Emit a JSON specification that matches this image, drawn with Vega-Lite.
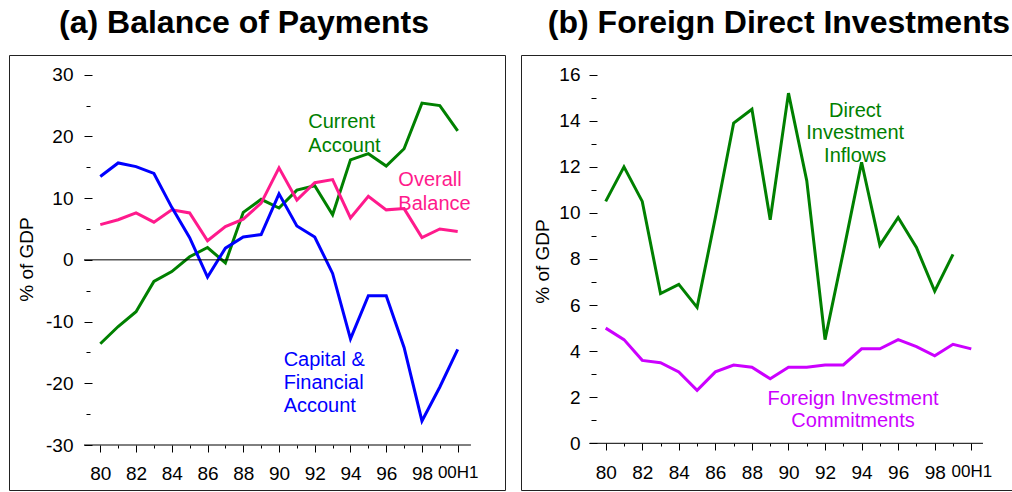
{
  "$schema": "https://vega.github.io/schema/vega-lite/v6.json",
  "padding": {"left": 8, "top": 6, "right": 0, "bottom": 0},
  "spacing": 14,
  "resolve": {"scale": {"color": "independent"}},
  "config": {
    "font": "Liberation Sans",
    "view": {"stroke": "#222222", "strokeWidth": 1},
    "axis": {"grid": false, "domain": false, "labelFont": "Liberation Sans", "labelColor": "black", "tickColor": "black", "titleColor": "black", "labelFontSize": 19, "titleFontSize": 19, "titleFont": "Liberation Sans", "titleFontWeight": "normal"},
    "title": {"font": "Liberation Sans", "fontSize": 32, "fontWeight": "bold", "color": "black", "anchor": "middle"}
  },
  "datasets": {
    "bop": [
      {"yr": 80, "v": -13.6, "s": "Current Account"}, {"yr": 81, "v": -10.8, "s": "Current Account"}, {"yr": 82, "v": -8.4, "s": "Current Account"}, {"yr": 83, "v": -3.5, "s": "Current Account"}, {"yr": 84, "v": -1.9, "s": "Current Account"}, {"yr": 85, "v": 0.5, "s": "Current Account"}, {"yr": 86, "v": 2.0, "s": "Current Account"}, {"yr": 87, "v": -0.5, "s": "Current Account"}, {"yr": 88, "v": 7.7, "s": "Current Account"}, {"yr": 89, "v": 9.8, "s": "Current Account"}, {"yr": 90, "v": 8.4, "s": "Current Account"}, {"yr": 91, "v": 11.3, "s": "Current Account"}, {"yr": 92, "v": 12.0, "s": "Current Account"}, {"yr": 93, "v": 7.3, "s": "Current Account"}, {"yr": 94, "v": 16.2, "s": "Current Account"}, {"yr": 95, "v": 17.2, "s": "Current Account"}, {"yr": 96, "v": 15.2, "s": "Current Account"}, {"yr": 97, "v": 18.0, "s": "Current Account"}, {"yr": 98, "v": 25.4, "s": "Current Account"}, {"yr": 99, "v": 25.0, "s": "Current Account"}, {"yr": 100, "v": 20.9, "s": "Current Account"},
      {"yr": 80, "v": 5.7, "s": "Overall Balance"}, {"yr": 81, "v": 6.5, "s": "Overall Balance"}, {"yr": 82, "v": 7.6, "s": "Overall Balance"}, {"yr": 83, "v": 6.1, "s": "Overall Balance"}, {"yr": 84, "v": 8.1, "s": "Overall Balance"}, {"yr": 85, "v": 7.6, "s": "Overall Balance"}, {"yr": 86, "v": 3.1, "s": "Overall Balance"}, {"yr": 87, "v": 5.4, "s": "Overall Balance"}, {"yr": 88, "v": 6.6, "s": "Overall Balance"}, {"yr": 89, "v": 9.2, "s": "Overall Balance"}, {"yr": 90, "v": 14.9, "s": "Overall Balance"}, {"yr": 91, "v": 9.7, "s": "Overall Balance"}, {"yr": 92, "v": 12.5, "s": "Overall Balance"}, {"yr": 93, "v": 13.0, "s": "Overall Balance"}, {"yr": 94, "v": 6.8, "s": "Overall Balance"}, {"yr": 95, "v": 10.3, "s": "Overall Balance"}, {"yr": 96, "v": 8.1, "s": "Overall Balance"}, {"yr": 97, "v": 8.3, "s": "Overall Balance"}, {"yr": 98, "v": 3.6, "s": "Overall Balance"}, {"yr": 99, "v": 5.0, "s": "Overall Balance"}, {"yr": 100, "v": 4.6, "s": "Overall Balance"},
      {"yr": 80, "v": 13.5, "s": "Capital & Financial Account"}, {"yr": 81, "v": 15.7, "s": "Capital & Financial Account"}, {"yr": 82, "v": 15.1, "s": "Capital & Financial Account"}, {"yr": 83, "v": 14.0, "s": "Capital & Financial Account"}, {"yr": 84, "v": 8.5, "s": "Capital & Financial Account"}, {"yr": 85, "v": 3.6, "s": "Capital & Financial Account"}, {"yr": 86, "v": -2.8, "s": "Capital & Financial Account"}, {"yr": 87, "v": 1.9, "s": "Capital & Financial Account"}, {"yr": 88, "v": 3.7, "s": "Capital & Financial Account"}, {"yr": 89, "v": 4.1, "s": "Capital & Financial Account"}, {"yr": 90, "v": 10.7, "s": "Capital & Financial Account"}, {"yr": 91, "v": 5.5, "s": "Capital & Financial Account"}, {"yr": 92, "v": 3.7, "s": "Capital & Financial Account"}, {"yr": 93, "v": -2.2, "s": "Capital & Financial Account"}, {"yr": 94, "v": -12.8, "s": "Capital & Financial Account"}, {"yr": 95, "v": -5.8, "s": "Capital & Financial Account"}, {"yr": 96, "v": -5.8, "s": "Capital & Financial Account"}, {"yr": 97, "v": -14.2, "s": "Capital & Financial Account"}, {"yr": 98, "v": -26.1, "s": "Capital & Financial Account"}, {"yr": 99, "v": -20.6, "s": "Capital & Financial Account"}, {"yr": 100, "v": -14.5, "s": "Capital & Financial Account"}
    ],
    "bopRules": [
      {"x1": 79.09, "x2": 100.74, "y": 0},
      {"x1": 79.09, "x2": 100.74, "y": -30}
    ],
    "bopLabels": [
      {"yr": 91.64, "v": 21.35, "t": "Current", "s": "Current Account"},
      {"yr": 91.64, "v": 17.55, "t": "Account", "s": "Current Account"},
      {"yr": 96.68, "v": 11.94, "t": "Overall", "s": "Overall Balance"},
      {"yr": 96.68, "v": 8.15, "t": "Balance", "s": "Overall Balance"},
      {"yr": 90.26, "v": -17.13, "t": "Capital &", "s": "Capital & Financial Account"},
      {"yr": 90.26, "v": -20.91, "t": "Financial", "s": "Capital & Financial Account"},
      {"yr": 90.26, "v": -24.59, "t": "Account", "s": "Capital & Financial Account"}
    ],
    "fdi": [
      {"yr": 80, "v": 10.5, "s": "Direct Investment Inflows"}, {"yr": 81, "v": 12.0, "s": "Direct Investment Inflows"}, {"yr": 82, "v": 10.5, "s": "Direct Investment Inflows"}, {"yr": 83, "v": 6.5, "s": "Direct Investment Inflows"}, {"yr": 84, "v": 6.9, "s": "Direct Investment Inflows"}, {"yr": 85, "v": 5.9, "s": "Direct Investment Inflows"}, {"yr": 86, "v": 9.8, "s": "Direct Investment Inflows"}, {"yr": 87, "v": 13.9, "s": "Direct Investment Inflows"}, {"yr": 88, "v": 14.5, "s": "Direct Investment Inflows"}, {"yr": 89, "v": 9.7, "s": "Direct Investment Inflows"}, {"yr": 90, "v": 15.2, "s": "Direct Investment Inflows"}, {"yr": 91, "v": 11.4, "s": "Direct Investment Inflows"}, {"yr": 92, "v": 4.5, "s": "Direct Investment Inflows"}, {"yr": 93, "v": 8.3, "s": "Direct Investment Inflows"}, {"yr": 94, "v": 12.2, "s": "Direct Investment Inflows"}, {"yr": 95, "v": 8.6, "s": "Direct Investment Inflows"}, {"yr": 96, "v": 9.8, "s": "Direct Investment Inflows"}, {"yr": 97, "v": 8.5, "s": "Direct Investment Inflows"}, {"yr": 98, "v": 6.6, "s": "Direct Investment Inflows"}, {"yr": 99, "v": 8.2, "s": "Direct Investment Inflows"},
      {"yr": 80, "v": 5.0, "s": "Foreign Investment Commitments"}, {"yr": 81, "v": 4.5, "s": "Foreign Investment Commitments"}, {"yr": 82, "v": 3.6, "s": "Foreign Investment Commitments"}, {"yr": 83, "v": 3.5, "s": "Foreign Investment Commitments"}, {"yr": 84, "v": 3.1, "s": "Foreign Investment Commitments"}, {"yr": 85, "v": 2.3, "s": "Foreign Investment Commitments"}, {"yr": 86, "v": 3.1, "s": "Foreign Investment Commitments"}, {"yr": 87, "v": 3.4, "s": "Foreign Investment Commitments"}, {"yr": 88, "v": 3.3, "s": "Foreign Investment Commitments"}, {"yr": 89, "v": 2.8, "s": "Foreign Investment Commitments"}, {"yr": 90, "v": 3.3, "s": "Foreign Investment Commitments"}, {"yr": 91, "v": 3.3, "s": "Foreign Investment Commitments"}, {"yr": 92, "v": 3.4, "s": "Foreign Investment Commitments"}, {"yr": 93, "v": 3.4, "s": "Foreign Investment Commitments"}, {"yr": 94, "v": 4.1, "s": "Foreign Investment Commitments"}, {"yr": 95, "v": 4.1, "s": "Foreign Investment Commitments"}, {"yr": 96, "v": 4.5, "s": "Foreign Investment Commitments"}, {"yr": 97, "v": 4.2, "s": "Foreign Investment Commitments"}, {"yr": 98, "v": 3.8, "s": "Foreign Investment Commitments"}, {"yr": 99, "v": 4.3, "s": "Foreign Investment Commitments"}, {"yr": 100, "v": 4.1, "s": "Foreign Investment Commitments"}
    ],
    "fdiRules": [
      {"x1": 79.12, "x2": 100.64, "y": 0}
    ],
    "fdiLabels": [
      {"yr": 93.65, "v": 14.15, "t": "Direct", "s": "Direct Investment Inflows"},
      {"yr": 93.65, "v": 13.21, "t": "Investment", "s": "Direct Investment Inflows"},
      {"yr": 93.65, "v": 12.22, "t": "Inflows", "s": "Direct Investment Inflows"},
      {"yr": 93.53, "v": 1.675, "t": "Foreign Investment", "s": "Foreign Investment Commitments"},
      {"yr": 93.53, "v": 0.694, "t": "Commitments", "s": "Foreign Investment Commitments"}
    ]
  },
  "hconcat": [
    {
      "width": 496,
      "height": 435,
      "title": {"text": "(a) Balance of Payments", "dx": -13, "offset": -10, "baseline": "alphabetic"},
      "layer": [
        {
          "data": {"name": "bop"},
          "mark": {"type": "line", "strokeWidth": 3},
          "encoding": {
            "x": {"field": "yr", "type": "quantitative", "scale": {"domain": [74.891, 102.647], "nice": false, "zero": false},
              "axis": {"orient": "bottom", "offset": -45, "values": [80, 82, 84, 86, 88, 90, 92, 94, 96, 98, 100], "tickSize": 7, "labelPadding": 12, "title": null, "labelExpr": "datum.value == 100 ? '00H1' : '' + datum.value", "labelFontSize": {"condition": {"test": "datum.value == 100", "value": 17}, "value": 19}}},
            "y": {"field": "v", "type": "quantitative", "scale": {"domain": [-37.29, 33.19], "nice": false, "zero": false},
              "axis": {"orient": "left", "offset": -83, "values": [-30, -20, -10, 0, 10, 20, 30], "tickSize": 8, "labelPadding": 11, "labelExpr": "'' + datum.value", "title": "% of GDP", "titleX": -66, "titleY": 204, "titleBaseline": "middle", "titleAlign": "center", "titleAngle": -90}},
            "color": {"field": "s", "type": "nominal", "scale": {"domain": ["Current Account", "Overall Balance", "Capital & Financial Account"], "range": ["#008000", "#FF1A8C", "#0000FF"]}, "legend": null}
          }
        },
        {
          "data": {"name": "bopRules"},
          "mark": {"type": "rule", "color": "black", "strokeWidth": 1},
          "encoding": {
            "x": {"field": "x1", "type": "quantitative", "scale": {"domain": [74.891, 102.647], "nice": false, "zero": false},
              "axis": {"orient": "bottom", "offset": -45, "values": [81, 83, 85, 87, 89, 91, 93, 95, 97, 99], "tickSize": 3, "labels": false, "title": null}},
            "x2": {"field": "x2"},
            "y": {"field": "y", "type": "quantitative", "scale": {"domain": [-37.29, 33.19], "nice": false, "zero": false},
              "axis": {"orient": "left", "offset": -81, "values": [-25, -15, -5, 5, 15, 25], "tickSize": 4, "labels": false, "title": null}}
          }
        },
        {
          "data": {"name": "bopLabels"},
          "mark": {"type": "text", "align": "left", "baseline": "alphabetic", "fontSize": 20, "font": "Liberation Sans"},
          "encoding": {
            "x": {"field": "yr", "type": "quantitative", "scale": {"domain": [74.891, 102.647], "nice": false, "zero": false}, "axis": null},
            "y": {"field": "v", "type": "quantitative", "scale": {"domain": [-37.29, 33.19], "nice": false, "zero": false}, "axis": null},
            "text": {"field": "t"},
            "color": {"field": "s", "type": "nominal", "scale": {"domain": ["Current Account", "Overall Balance", "Capital & Financial Account"], "range": ["#008000", "#FF1A8C", "#0000FF"]}, "legend": null}
          }
        }
      ],
      "resolve": {"axis": {"x": "independent", "y": "independent"}}
    },
    {
      "width": 500,
      "height": 435,
      "title": {"text": "(b) Foreign Direct Investments", "dx": 8, "offset": -10, "baseline": "alphabetic"},
      "layer": [
        {
          "data": {"name": "fdi"},
          "mark": {"type": "line", "strokeWidth": 3},
          "encoding": {
            "x": {"field": "yr", "type": "quantitative", "scale": {"domain": [75.367, 102.72], "nice": false, "zero": false},
              "axis": {"orient": "bottom", "offset": -47, "values": [80, 82, 84, 86, 88, 90, 92, 94, 96, 98, 100], "tickSize": 7, "labelPadding": 13, "title": null, "labelExpr": "datum.value == 100 ? '00H1' : '' + datum.value", "labelFontSize": {"condition": {"test": "datum.value == 100", "value": 17}, "value": 19}}},
            "y": {"field": "v", "type": "quantitative", "scale": {"domain": [-2.027, 16.855], "nice": false, "zero": false},
              "axis": {"orient": "left", "offset": -76, "values": [0, 2, 4, 6, 8, 10, 12, 14, 16], "tickSize": 8, "labelPadding": 9, "labelExpr": "'' + datum.value", "title": "% of GDP", "titleX": -55, "titleY": 206, "titleBaseline": "middle", "titleAlign": "center", "titleAngle": -90}},
            "color": {"field": "s", "type": "nominal", "scale": {"domain": ["Direct Investment Inflows", "Foreign Investment Commitments"], "range": ["#008000", "#CC00FF"]}, "legend": null}
          }
        },
        {
          "data": {"name": "fdiRules"},
          "mark": {"type": "rule", "color": "black", "strokeWidth": 1},
          "encoding": {
            "x": {"field": "x1", "type": "quantitative", "scale": {"domain": [75.367, 102.72], "nice": false, "zero": false},
              "axis": {"orient": "bottom", "offset": -47, "values": [81, 83, 85, 87, 89, 91, 93, 95, 97, 99], "tickSize": 3, "labels": false, "title": null}},
            "x2": {"field": "x2"},
            "y": {"field": "y", "type": "quantitative", "scale": {"domain": [-2.027, 16.855], "nice": false, "zero": false},
              "axis": {"orient": "left", "offset": -75, "values": [1, 3, 5, 7, 9, 11, 13, 15], "tickSize": 5, "labels": false, "title": null}}
          }
        },
        {
          "data": {"name": "fdiLabels"},
          "mark": {"type": "text", "align": "center", "baseline": "alphabetic", "fontSize": 20, "font": "Liberation Sans"},
          "encoding": {
            "x": {"field": "yr", "type": "quantitative", "scale": {"domain": [75.367, 102.72], "nice": false, "zero": false}, "axis": null},
            "y": {"field": "v", "type": "quantitative", "scale": {"domain": [-2.027, 16.855], "nice": false, "zero": false}, "axis": null},
            "text": {"field": "t"},
            "color": {"field": "s", "type": "nominal", "scale": {"domain": ["Direct Investment Inflows", "Foreign Investment Commitments"], "range": ["#008000", "#CC00FF"]}, "legend": null}
          }
        }
      ],
      "resolve": {"axis": {"x": "independent", "y": "independent"}}
    }
  ]
}
